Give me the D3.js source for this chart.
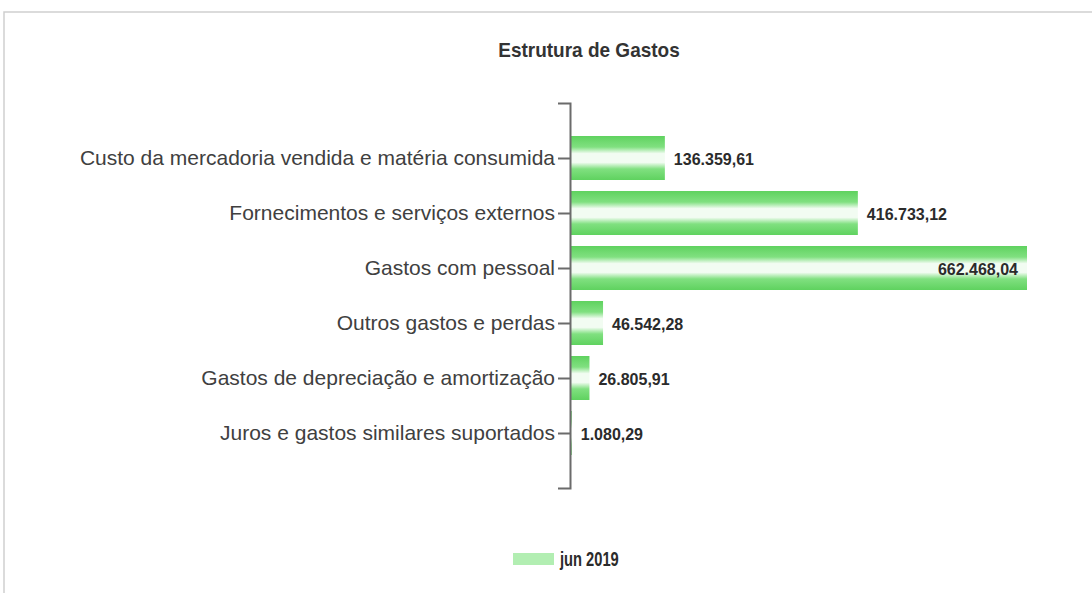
<!DOCTYPE html><meta charset="utf-8"><style>
    body { margin: 0; background: #fff; }
    .cat text { fill: #404040; font: 21px "Liberation Sans", sans-serif; }
    .val { fill: #2b2b2b; font: bold 16px "Liberation Sans", sans-serif; }
</style><svg width="1092" height="593"></svg><script src="https://cdn.jsdelivr.net/npm/d3@7"></script><script>

    var width = 1092, height = 593;

    var categories = [
        "Custo da mercadoria vendida e matéria consumida",
        "Fornecimentos e serviços externos",
        "Gastos com pessoal",
        "Outros gastos e perdas",
        "Gastos de depreciação e amortização",
        "Juros e gastos similares suportados"];

    var values = [136359.61, 416733.12, 662468.04, 46542.28, 26805.91, 1080.29];

    var seriesName = "jun 2019";
    var title = "Estrutura de Gastos";

    var data = categories.map((c, i) => ({name: c, value: values[i]}));

    formatValue = x => d3.format(",.2f")(x).replace(/,/g, "#").replace(".", ",").replace(/#/g, ".");

    var svg = d3.select("svg")
        .attr("viewBox", [0, 0, width, height]);

    // chart frame
    svg.append("path")
        .attr("d", `M4,${height}V12H${width}`)
        .attr("fill", "none")
        .attr("stroke", "#cfcfcf")
        .attr("stroke-width", 1.5);

    var defs = svg.append("defs");
    var grad = defs.append("linearGradient")
        .attr("id", "barGrad")
        .attr("x1", 0).attr("y1", 0).attr("x2", 0).attr("y2", 1);
    [[0, "#5fd25f"], [0.25, "#80e080"], [0.4, "#f2fcf2"], [0.6, "#f2fcf2"], [0.75, "#80e080"], [1, "#5fd25f"]]
        .forEach(s => grad.append("stop").attr("offset", s[0]).attr("stop-color", s[1]));

    var x = d3.scaleLinear()
        .domain([0, d3.max(values)])
        .range([571, 1027]);

    var y = d3.scalePoint()
        .domain(categories)
        .range([103, 488])
        .padding(1);

    var barH = y.step() * 0.8;

    svg.append("g")
        .selectAll("rect")
        .data(data)
        .join("rect")
        .attr("x", x(0))
        .attr("y", d => y(d.name) - barH / 2)
        .attr("width", d => x(d.value) - x(0))
        .attr("height", barH)
        .attr("fill", "url(#barGrad)");

    var maxVal = d3.max(values);

    svg.append("g")
        .selectAll("text")
        .data(data)
        .join("text")
        .attr("class", "val")
        .attr("x", d => d.value === maxVal ? x(d.value) - 9 : x(d.value) + 9)
        .attr("y", d => y(d.name) + 1)
        .attr("dy", "0.35em")
        .attr("text-anchor", d => d.value === maxVal ? "end" : "start")
        .text(d => formatValue(d.value));

    var yAxis = g => g
        .attr("class", "cat")
        .attr("transform", `translate(${x(0) - 1},0)`)
        .call(d3.axisLeft(y).tickSize(12).tickSizeOuter(12).tickPadding(3))
        .call(g => g.selectAll("path, line").attr("stroke", "#6b6b6b").attr("stroke-width", 2))
        .call(g => g.selectAll("text").attr("font-size", null).attr("font-family", null).attr("fill", null));

    svg.append("g").call(yAxis);

    svg.append("text")
        .attr("x", 589)
        .attr("y", 50)
        .attr("dy", "0.35em")
        .attr("text-anchor", "middle")
        .attr("fill", "#333")
        .style("font", "bold 20px 'Liberation Sans', sans-serif")
        .attr("transform", "translate(589,0) scale(0.95,1) translate(-589,0)")
        .text(title);

    // legend
    var legend = svg.append("g").attr("transform", "translate(513,559)");
    legend.append("rect")
        .attr("x", 0).attr("y", -6)
        .attr("width", 41).attr("height", 12)
        .attr("fill", "#b2eeb2");
    legend.append("text")
        .attr("x", 47)
        .attr("dy", "0.35em")
        .attr("fill", "#2b2b2b")
        .style("font", "bold 21px 'Liberation Sans', sans-serif")
        .attr("transform", "translate(47,0) scale(0.7,1) translate(-47,0)")
        .text(seriesName);

</script>
